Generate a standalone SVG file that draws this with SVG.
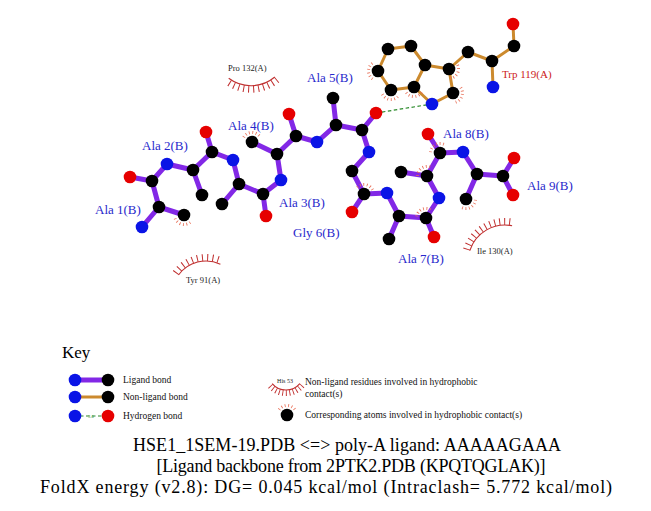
<svg xmlns="http://www.w3.org/2000/svg" xmlns:xlink="http://www.w3.org/1999/xlink" width="651" height="511" viewBox="0 0 651 511">
<style>
.lb{stroke:#8228e6;stroke-width:5;stroke-linecap:round}
.nb{stroke:#cc8a2e;stroke-width:3;stroke-linecap:round}
.hb{stroke:#2a8a2a;stroke-width:1.2;stroke-dasharray:3.5 2.5}
.C{fill:#000}
.N{fill:#0a14e6}
.O{fill:#e60000}
.lbl{font-family:"Liberation Serif","Times New Roman",serif;font-size:13px;fill:#2828cc}
.res{font-family:"Liberation Serif","Times New Roman",serif;font-size:8.5px;fill:#222}
.key{font-family:"Liberation Serif","Times New Roman",serif;font-size:9.5px;fill:#111}
.ttl{font-family:"Liberation Serif","Times New Roman",serif;font-size:18px;fill:#000;text-anchor:middle}
.lash{fill:none;stroke:#c03030;stroke-width:1.1}
.spk{fill:none;stroke:#c03030;stroke-width:7}
.hm{fill:none;stroke:#e87058;stroke-width:3;stroke-dasharray:0.8 2.6}
</style>
<defs>
<path id="hmark" class="hm" d="M5.45,-7.78 A9.5,9.5 0 0 1 5.45,7.78"/>
</defs>
<rect width="651" height="511" fill="#fff"/>

<g id="connectors">
<line class="lb" x1="142" y1="227" x2="159" y2="207"/>
<line class="lb" x1="159" y1="207" x2="184" y2="215"/>
<line class="lb" x1="159" y1="207" x2="152" y2="181"/>
<line class="lb" x1="152" y1="181" x2="130" y2="177"/>
<line class="lb" x1="152" y1="181" x2="167" y2="164"/>
<line class="lb" x1="167" y1="164" x2="193" y2="170"/>
<line class="lb" x1="193" y1="170" x2="202" y2="195"/>
<line class="lb" x1="193" y1="170" x2="212" y2="152"/>
<line class="lb" x1="212" y1="152" x2="206" y2="132"/>
<line class="lb" x1="212" y1="152" x2="233" y2="160"/>
<line class="lb" x1="233" y1="160" x2="239" y2="184"/>
<line class="lb" x1="239" y1="184" x2="222" y2="204"/>
<line class="lb" x1="239" y1="184" x2="263" y2="194"/>
<line class="lb" x1="263" y1="194" x2="266" y2="216"/>
<line class="lb" x1="263" y1="194" x2="281" y2="180"/>
<line class="lb" x1="281" y1="180" x2="277" y2="154"/>
<line class="lb" x1="277" y1="154" x2="252" y2="142"/>
<line class="lb" x1="277" y1="154" x2="296" y2="136"/>
<line class="lb" x1="296" y1="136" x2="289" y2="114"/>
<line class="lb" x1="296" y1="136" x2="317" y2="142"/>
<line class="lb" x1="317" y1="142" x2="336" y2="125"/>
<line class="lb" x1="336" y1="125" x2="333" y2="98"/>
<line class="lb" x1="336" y1="125" x2="362" y2="130"/>
<line class="lb" x1="362" y1="130" x2="376" y2="113"/>
<line class="lb" x1="362" y1="130" x2="369" y2="152"/>
<line class="lb" x1="369" y1="152" x2="352" y2="171"/>
<line class="lb" x1="352" y1="171" x2="364" y2="194"/>
<line class="lb" x1="364" y1="194" x2="352" y2="212"/>
<line class="lb" x1="364" y1="194" x2="387" y2="193"/>
<line class="lb" x1="387" y1="193" x2="399" y2="216"/>
<line class="lb" x1="399" y1="216" x2="389" y2="239"/>
<line class="lb" x1="399" y1="216" x2="426" y2="218"/>
<line class="lb" x1="426" y1="218" x2="434" y2="237"/>
<line class="lb" x1="426" y1="218" x2="439" y2="198"/>
<line class="lb" x1="439" y1="198" x2="427" y2="176"/>
<line class="lb" x1="427" y1="176" x2="401" y2="172"/>
<line class="lb" x1="427" y1="176" x2="440" y2="153"/>
<line class="lb" x1="440" y1="153" x2="428" y2="134"/>
<line class="lb" x1="440" y1="153" x2="463" y2="152"/>
<line class="lb" x1="463" y1="152" x2="477" y2="174"/>
<line class="lb" x1="477" y1="174" x2="466" y2="199"/>
<line class="lb" x1="477" y1="174" x2="503" y2="176"/>
<line class="lb" x1="503" y1="176" x2="514" y2="158"/>
<line class="lb" x1="503" y1="176" x2="513" y2="195"/>

<line class="nb" x1="388" y1="49" x2="411" y2="46"/>
<line class="nb" x1="411" y1="46" x2="425" y2="65"/>
<line class="nb" x1="425" y1="65" x2="414" y2="87"/>
<line class="nb" x1="414" y1="87" x2="391" y2="90"/>
<line class="nb" x1="391" y1="90" x2="378" y2="71"/>
<line class="nb" x1="378" y1="71" x2="388" y2="49"/>
<line class="nb" x1="425" y1="65" x2="449" y2="69"/>
<line class="nb" x1="449" y1="69" x2="453" y2="93"/>
<line class="nb" x1="453" y1="93" x2="432" y2="104"/>
<line class="nb" x1="432" y1="104" x2="414" y2="87"/>
<line class="nb" x1="449" y1="69" x2="468" y2="52"/>
<line class="nb" x1="468" y1="52" x2="492" y2="61"/>
<line class="nb" x1="492" y1="61" x2="493" y2="87"/>
<line class="nb" x1="492" y1="61" x2="514" y2="46"/>
<line class="nb" x1="514" y1="46" x2="513" y2="24"/>

<line class="hb" x1="376" y1="113" x2="432" y2="104"/>
</g>

<g id="hydrophobic-marks">
<use xlink:href="#hmark" href="#hmark" transform="translate(184,215) rotate(105)"/>
<use xlink:href="#hmark" href="#hmark" transform="translate(252,142) rotate(265)"/>
<use xlink:href="#hmark" href="#hmark" transform="translate(364,194) rotate(280)"/>
<use xlink:href="#hmark" href="#hmark" transform="translate(426,218) rotate(245)"/>
<use xlink:href="#hmark" href="#hmark" transform="translate(427,176) rotate(235)"/>
<use xlink:href="#hmark" href="#hmark" transform="translate(440,153) rotate(240)"/>
<use xlink:href="#hmark" href="#hmark" transform="translate(466,199) rotate(60)"/>
<use xlink:href="#hmark" href="#hmark" transform="translate(378,71) rotate(180)"/>
<use xlink:href="#hmark" href="#hmark" transform="translate(391,90) rotate(100)"/>
<use xlink:href="#hmark" href="#hmark" transform="translate(414,87) rotate(90)"/>
<use xlink:href="#hmark" href="#hmark" transform="translate(449,69) rotate(30)"/>
<use xlink:href="#hmark" href="#hmark" transform="translate(453,93) rotate(20)"/>
</g>

<g id="atoms">
<g id="ala1"><circle class="N" cx="142" cy="227" r="6.3"/><circle class="C" cx="159" cy="207" r="6.3"/><circle class="C" cx="184" cy="215" r="6.3"/><circle class="C" cx="152" cy="181" r="6.3"/><circle class="O" cx="130" cy="177" r="6.3"/></g>
<g id="ala2"><circle class="N" cx="167" cy="164" r="6.3"/><circle class="C" cx="193" cy="170" r="6.3"/><circle class="C" cx="202" cy="195" r="6.3"/><circle class="C" cx="212" cy="152" r="6.3"/><circle class="O" cx="206" cy="132" r="6.3"/></g>
<g id="ala3"><circle class="N" cx="233" cy="160" r="6.3"/><circle class="C" cx="239" cy="184" r="6.3"/><circle class="C" cx="222" cy="204" r="6.3"/><circle class="C" cx="263" cy="194" r="6.3"/><circle class="O" cx="266" cy="216" r="6.3"/></g>
<g id="ala4"><circle class="N" cx="281" cy="180" r="6.3"/><circle class="C" cx="277" cy="154" r="6.3"/><circle class="C" cx="252" cy="142" r="6.3"/><circle class="C" cx="296" cy="136" r="6.3"/><circle class="O" cx="289" cy="114" r="6.3"/></g>
<g id="ala5"><circle class="N" cx="317" cy="142" r="6.3"/><circle class="C" cx="336" cy="125" r="6.3"/><circle class="C" cx="333" cy="98" r="6.3"/><circle class="C" cx="362" cy="130" r="6.3"/><circle class="O" cx="376" cy="113" r="6.3"/></g>
<g id="gly6"><circle class="N" cx="369" cy="152" r="6.3"/><circle class="C" cx="352" cy="171" r="6.3"/><circle class="C" cx="364" cy="194" r="6.3"/><circle class="O" cx="352" cy="212" r="6.3"/></g>
<g id="ala7"><circle class="N" cx="387" cy="193" r="6.3"/><circle class="C" cx="399" cy="216" r="6.3"/><circle class="C" cx="389" cy="239" r="6.3"/><circle class="C" cx="426" cy="218" r="6.3"/><circle class="O" cx="434" cy="237" r="6.3"/></g>
<g id="ala8"><circle class="N" cx="439" cy="198" r="6.3"/><circle class="C" cx="427" cy="176" r="6.3"/><circle class="C" cx="401" cy="172" r="6.3"/><circle class="C" cx="440" cy="153" r="6.3"/><circle class="O" cx="428" cy="134" r="6.3"/></g>
<g id="ala9"><circle class="N" cx="463" cy="152" r="6.3"/><circle class="C" cx="477" cy="174" r="6.3"/><circle class="C" cx="466" cy="199" r="6.3"/><circle class="C" cx="503" cy="176" r="6.3"/><circle class="O" cx="514" cy="158" r="6.3"/><circle class="O" cx="513" cy="195" r="6.3"/></g>
<g id="trp119"><circle class="C" cx="388" cy="49" r="6.3"/><circle class="C" cx="411" cy="46" r="6.3"/><circle class="C" cx="425" cy="65" r="6.3"/><circle class="C" cx="414" cy="87" r="6.3"/><circle class="C" cx="391" cy="90" r="6.3"/><circle class="C" cx="378" cy="71" r="6.3"/><circle class="C" cx="449" cy="69" r="6.3"/><circle class="C" cx="453" cy="93" r="6.3"/><circle class="N" cx="432" cy="104" r="6.3"/><circle class="C" cx="468" cy="52" r="6.3"/><circle class="C" cx="492" cy="61" r="6.3"/><circle class="N" cx="493" cy="87" r="6.3"/><circle class="C" cx="514" cy="46" r="6.3"/><circle class="O" cx="513" cy="24" r="6.3"/></g>
</g>

<g id="labels">
<text class="lbl" x="95" y="214">Ala 1(B)</text>
<text class="lbl" x="142" y="150">Ala 2(B)</text>
<text class="lbl" x="279" y="207">Ala 3(B)</text>
<text class="lbl" x="228" y="130">Ala 4(B)</text>
<text class="lbl" x="307" y="82">Ala 5(B)</text>
<text class="lbl" x="293" y="237">Gly 6(B)</text>
<text class="lbl" x="398" y="263">Ala 7(B)</text>
<text class="lbl" x="443" y="138">Ala 8(B)</text>
<text class="lbl" x="527" y="190">Ala 9(B)</text>
<text class="lbl" x="502" y="78" style="fill:#cc2020;font-size:11px">Trp 119(A)</text>
</g>

<g id="pro132">
<path class="lash" d="M274.8,77 A37,37 0 0 1 228.7,78.3"/>
<path class="spk" d="M277,79.7 A40.5,40.5 0 0 1 226.6,81.1" style="stroke-dasharray:1 4"/>
<text class="res" x="228" y="71">Pro 132(A)</text>
</g>
<g id="tyr91">
<path class="lash" d="M178.5,275 A34,34 0 0 1 220.4,264.2"/>
<path class="spk" d="M175.7,273 A37.5,37.5 0 0 1 221.9,261" style="stroke-dasharray:1 4.2"/>
<text class="res" x="186" y="283">Tyr 91(A)</text>
</g>
<g id="ile130">
<path class="lash" d="M469.8,250.6 A37,37 0 0 1 512.1,225.7"/>
<path class="spk" d="M466.5,249.5 A40.5,40.5 0 0 1 512.7,222.2" style="stroke-dasharray:1 4"/>
<text class="res" x="477" y="254">Ile 130(A)</text>
</g>

<g id="key">
<text x="62" y="358" style="font-family:'Liberation Serif','Times New Roman',serif;font-size:17px;fill:#000">Key</text>
<line class="lb" x1="75" y1="380" x2="108" y2="380"/>
<circle class="N" cx="75" cy="380" r="6.3"/><circle class="C" cx="108" cy="380" r="6.3"/>
<text class="key" x="123" y="383">Ligand bond</text>
<line class="nb" x1="75" y1="397" x2="108" y2="397"/>
<circle class="N" cx="75" cy="397" r="6.3"/><circle class="C" cx="108" cy="397" r="6.3"/>
<text class="key" x="123" y="400">Non-ligand bond</text>
<line class="hb" x1="80" y1="416" x2="103" y2="416"/>
<circle class="N" cx="75" cy="416" r="6.3"/><circle class="O" cx="108" cy="416" r="6.3"/>
<text x="88" y="417.5" style="font-family:'Liberation Serif',serif;font-size:4.5px;fill:#2a8a2a">3.0</text>
<text class="key" x="123" y="419">Hydrogen bond</text>
<path class="lash" d="M299.8,383.6 A18,18 0 0 1 272.2,383.6"/>
<path class="spk" d="M302.1,385.5 A21,21 0 0 1 269.9,385.5" style="stroke-width:6;stroke-dasharray:0.9 2.6"/>
<text x="285" y="383" style="font-family:'Liberation Serif',serif;font-size:6px;fill:#222;text-anchor:middle">His 53</text>
<text class="key" x="305" y="385">Non-ligand residues involved in hydrophobic</text>
<text class="key" x="305" y="397">contact(s)</text>
<use xlink:href="#hmark" href="#hmark" transform="translate(287,415) rotate(270)"/>
<circle class="C" cx="287" cy="415" r="6.3"/>
<text class="key" x="305" y="418">Corresponding atoms involved in hydrophobic contact(s)</text>
</g>

<g id="title">
<text class="ttl" x="347" y="451" textLength="428" lengthAdjust="spacing">HSE1_1SEM-19.PDB &lt;=&gt; poly-A ligand: AAAAAGAAA</text>
<text class="ttl" x="351" y="472" textLength="389" lengthAdjust="spacing">[Ligand backbone from 2PTK2.PDB (KPQTQGLAK)]</text>
<text class="ttl" x="326" y="493" textLength="572" lengthAdjust="spacing">FoldX energy (v2.8): DG= 0.045 kcal/mol (Intraclash= 5.772 kcal/mol)</text>
</g>
</svg>
